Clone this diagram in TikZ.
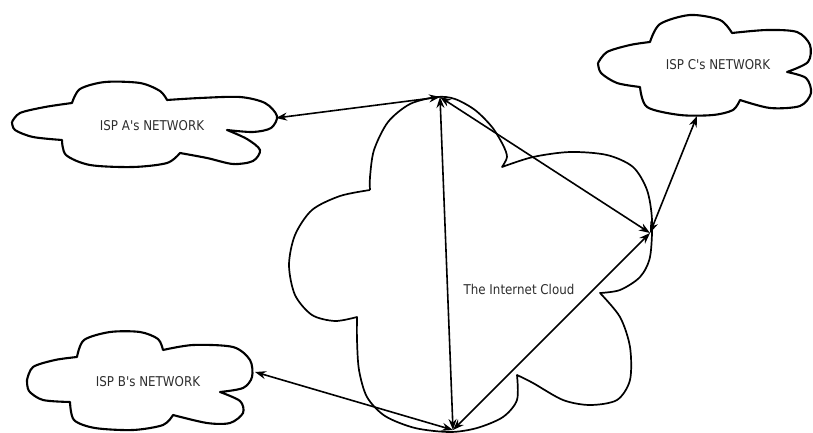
\documentclass[tikz,border=0pt]{standalone}
\usepackage{fontspec}
\usetikzlibrary{arrows.meta}
\newfontfamily\lblfont{DejaVu Sans}[FakeStretch=0.88]
\definecolor{txt}{RGB}{45,45,45}
\begin{document}
\begin{tikzpicture}[x=1pt,y=-1pt,
  cloudline/.style={line width=2.1pt,line join=round},
  bigcloud/.style={line width=1.7pt,line join=round},
  link/.style={line width=1.6pt,{Stealth[length=11pt,width=8pt]}-{Stealth[length=11pt,width=8pt]}},
  lbl/.style={font=\lblfont\fontsize{13.5}{16}\selectfont,text=txt,inner sep=0pt}]
\useasboundingbox (0,0) rectangle (813,433);
% ISP A cloud
\draw[cloudline] plot[smooth] coordinates {(12,122)(20,113)(45,107)(72,103)}
 -- plot[smooth] coordinates {(72,103)(80,89)(105,82)(140,83)(160,91)(167,100)}
 -- plot[smooth] coordinates {(167,100)(200,98)(240,97)(265,103)(277,116)(271,128)(253,132)(227,130)}
 -- plot[smooth] coordinates {(227,130)(247,139)(260,150)(253,161)(233,164)(207,158)(180,153)}
 -- plot[smooth] coordinates {(180,153)(167,163)(133,167)(90,165)(66,155)(62,140)}
 -- plot[smooth] coordinates {(62,140)(33,137)(15,130)(12,122)};
% ISP B cloud
\draw[cloudline] plot[smooth] coordinates {(27,380)(33,367)(55,360)(77,357)}
 -- plot[smooth] coordinates {(77,357)(84,340)(110,332)(140,332)(158,339)(163,350)}
 -- plot[smooth] coordinates {(163,350)(193,345)(233,347)(250,360)(252,377)(243,388)(220,392)}
 -- plot[smooth] coordinates {(220,392)(240,401)(243,413)(230,423)(207,423)(173,415)}
 -- plot[smooth] coordinates {(173,415)(163,425)(133,430)(95,428)(74,420)(70,402)}
 -- plot[smooth] coordinates {(70,402)(43,400)(29,391)(27,380)};
% ISP C cloud
\draw[cloudline] plot[smooth] coordinates {(598,63)(607,52)(630,45)(650,42)}
 -- plot[smooth] coordinates {(650,42)(660,24)(690,15)(720,20)(732,33)}
 -- plot[smooth] coordinates {(732,33)(767,30)(797,32)(810,45)(808,62)(787,72)}
 -- plot[smooth] coordinates {(787,72)(806,78)(811,93)(800,106)(770,108)(740,100)}
 -- plot[smooth] coordinates {(740,100)(733,110)(713,115)(680,115)(647,107)(640,87)}
 -- plot[smooth] coordinates {(640,87)(617,83)(601,73)(598,63)};
% Internet cloud
\draw[bigcloud] plot[smooth] coordinates {(370,190)(370,177)(374,150)(388,122)(410,104)(437,97)(455,99)(475,110)(492,127)(503,145)(507,157)(502,167)}
 -- plot[smooth] coordinates {(502,167)(533,157)(570,152)(607,155)(633,167)(647,190)(652,220)(650,257)(640,277)(620,290)(600,293)}
 -- plot[smooth] coordinates {(600,293)(620,317)(630,347)(630,380)(617,400)(590,405)(563,400)(533,383)(517,375)}
 -- plot[smooth] coordinates {(517,375)(517,400)(503,417)(477,428)(450,432)(415,428)(385,416)(367,397)(359,370)(357,340)(357,317)}
 -- plot[smooth] coordinates {(357,317)(335,321)(312,315)(295,295)(289,265)(295,235)(312,210)(340,196)(370,190)};
% labels
\node[lbl] (ispA) at (152,126) {ISP A's NETWORK};
\node[lbl] (ispB) at (148,382) {ISP B's NETWORK};
\node[lbl] (ispC) at (718,65) {ISP C's NETWORK};
\node[lbl] (inet) at (519,289) {The Internet Cloud};
% ports and junctions
\coordinate (pA) at (276,118);
\coordinate (pB) at (255,372);
\coordinate (pC) at (697,116);
\coordinate (jT) at (440,97);
\coordinate (jR) at (650,233);
\coordinate (jB) at (453,430);
% links
\draw[link] (pA) -- (jT);
\draw[link] (jT) -- (jB);
\draw[link] (jT) -- (jR);
\draw[link] (pC) -- (jR);
\draw[link] (jB) -- (jR);
\draw[link] (pB) -- (jB);
\end{tikzpicture}
\end{document}
